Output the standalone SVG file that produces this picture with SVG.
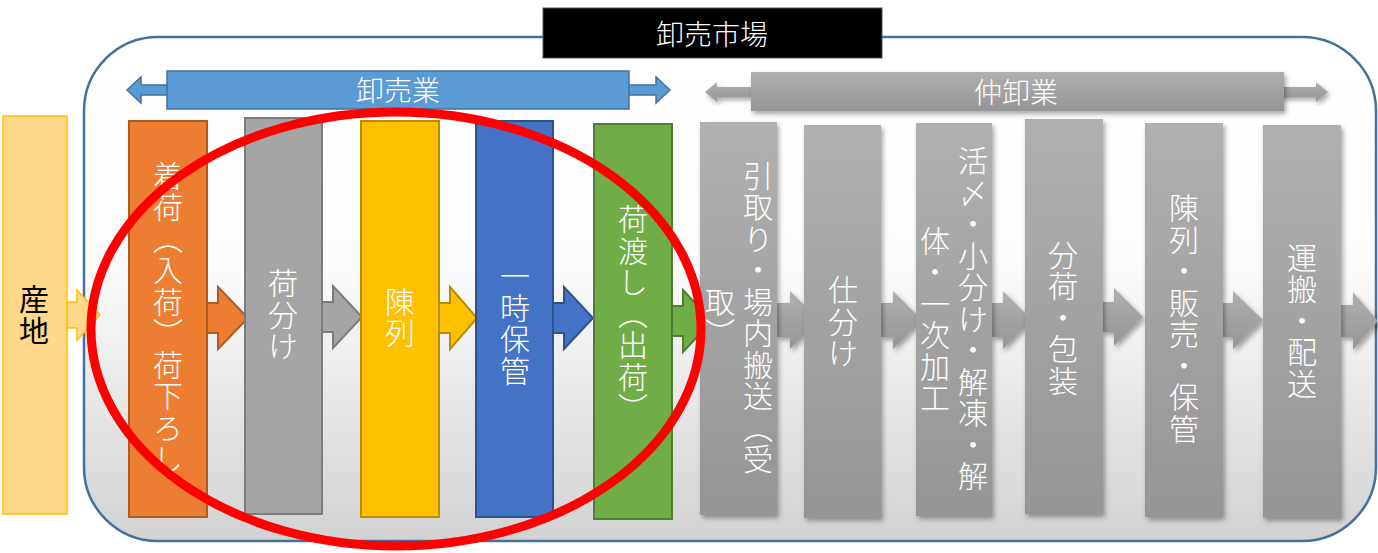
<svg xmlns="http://www.w3.org/2000/svg" width="1378" height="553" viewBox="0 0 1378 553">
<defs>
  <linearGradient id="bg" x1="0" y1="0" x2="0" y2="1">
    <stop offset="0" stop-color="#ffffff"/>
    <stop offset="0.45" stop-color="#fcfcfc"/>
    <stop offset="1" stop-color="#d2d2d2"/>
  </linearGradient>
  <linearGradient id="gr" x1="0" y1="0" x2="0" y2="1">
    <stop offset="0" stop-color="#b0b0b0"/>
    <stop offset="1" stop-color="#959595"/>
  </linearGradient>
  <filter id="sh" x="-20%" y="-20%" width="140%" height="140%">
    <feDropShadow dx="2" dy="3" stdDeviation="2.5" flood-color="#000" flood-opacity="0.35"/>
  </filter>
  <style>
    .jp { font-family: "Noto Sans CJK JP", "Noto Sans CJK SC", sans-serif; font-weight: 300; }
    .vt { writing-mode: vertical-rl; font-size: 30px; fill: #ffffff; text-anchor: middle; letter-spacing: 1.5px; }
    .ht { font-size: 28px; fill: #ffffff; text-anchor: middle; dominant-baseline: central; }
    .g { fill: url(#gr); filter: url(#sh); }
  </style>
</defs>

<g id="market">
  <rect x="84" y="37" width="1292" height="504" rx="74" ry="74" fill="url(#bg)" stroke="#41719C" stroke-width="2.5"/>
</g>
<g id="title">
  <rect x="543" y="8" width="339" height="50" fill="#000000" stroke="#555" stroke-width="1"/>
  <text class="jp ht" x="712" y="33">卸売市場</text>
</g>

<g id="oroshiuri-bar">
  <path d="M127,90 L141,77 V85 H656 V77 L670,90 L656,103 V95 H141 V103 Z" fill="#5B9BD5" stroke="#41719C" stroke-width="1.5"/>
  <rect x="167" y="71" width="462" height="38" fill="#5B9BD5" stroke="#41719C" stroke-width="1.5"/>
  <text class="jp ht" x="398" y="89">卸売業</text>
</g>

<g id="nakaoroshi-bar">
  <path d="M705,92 L717,82 V87 H1316 V82 L1328,92 L1316,102 V97 H717 V102 Z" class="g"/>
  <rect x="751" y="72" width="533" height="39" class="g"/>
  <text class="jp ht" x="1016" y="91">仲卸業</text>
</g>

<g id="connectors">
  <path d="M67,302 H77 V290 L100,315 L77,340 V328 H67 Z" fill="#FFD88A" stroke="#FFC000" stroke-width="1.5"/>
  <path d="M207,303 H218 V287 L248,318 L218,349 V333 H207 Z" fill="#ED7D31" stroke="#AE5A21" stroke-width="2"/>
  <path d="M322,302 H333 V286 L362,317 L333,348 V332 H322 Z" fill="#A5A5A5" stroke="#7C7C7C" stroke-width="2"/>
  <path d="M439,303 H450 V287 L477,318 L450,349 V333 H439 Z" fill="#FFC000" stroke="#BC8C00" stroke-width="2"/>
  <path d="M553,303 H564 V287 L593,318 L564,349 V333 H553 Z" fill="#4472C4" stroke="#2F528F" stroke-width="2"/>
  <path d="M672,306 H683 V290 L712,321 L683,352 V336 H672 Z" fill="#70AD47" stroke="#507E32" stroke-width="2"/>
  <path d="M777,303 H790 V291 L819,320 L790,349 V337 H777 Z" class="g"/>
  <path d="M881,303 H893 V291 L922,320 L893,349 V337 H881 Z" class="g"/>
  <path d="M992,303 H1003 V291 L1032,320 L1003,349 V337 H992 Z" class="g"/>
  <path d="M1103,302 H1114 V288 L1143,317 L1114,346 V332 H1103 Z" class="g"/>
  <path d="M1223,303 H1233 V291 L1263,320 L1233,349 V337 H1223 Z" class="g"/>
  <path d="M1341,305 H1353 V292 L1378,321 L1353,350 V337 H1341 Z" class="g"/>
</g>

<g id="sanchi">
  <rect x="3" y="116" width="64" height="398" fill="#FFD88A" stroke="#FFC000" stroke-width="1.5"/>
  <text class="jp vt" x="34" y="316" style="fill:#000000;font-weight:400;letter-spacing:2px">産地</text>
</g>
<g id="chakuni">
  <rect x="129" y="121" width="78" height="396" fill="#ED7D31" stroke="#AE5A21" stroke-width="2"/>
  <text class="jp vt" x="168" y="318">着荷（入荷）荷下ろし</text>
</g>
<g id="niwake">
  <rect x="245" y="118" width="77" height="396" fill="#A5A5A5" stroke="#7C7C7C" stroke-width="2"/>
  <text class="jp vt" x="283" y="315">荷分け</text>
</g>
<g id="chinretsu">
  <rect x="361" y="121" width="78" height="396" fill="#FFC000" stroke="#BC8C00" stroke-width="2"/>
  <text class="jp vt" x="400" y="318">陳列</text>
</g>
<g id="ichiji-hokan">
  <rect x="476" y="121" width="77" height="396" fill="#4472C4" stroke="#2F528F" stroke-width="2"/>
  <text class="jp vt" x="515" y="324">一時保管</text>
</g>
<g id="niwatashi">
  <rect x="594" y="124" width="78" height="395" fill="#70AD47" stroke="#507E32" stroke-width="2"/>
  <text class="jp vt" x="633" y="314">荷渡し（出荷）</text>
</g>
<g id="hikitori">
  <rect x="700" y="122" width="77" height="393" class="g"/>
  <text class="jp vt" x="758" y="318">引取り・場内搬送（受</text>
  <text class="jp vt" x="720" y="318">取）</text>
</g>
<g id="shiwake">
  <rect x="804" y="125" width="77" height="393" class="g"/>
  <text class="jp vt" x="843" y="322">仕分け</text>
</g>
<g id="kako">
  <rect x="916" y="123" width="76" height="393" class="g"/>
  <text class="jp vt" x="973" y="319">活〆・小分け・解凍・解</text>
  <text class="jp vt" x="935" y="320">体・一次加工</text>
</g>
<g id="bunka">
  <rect x="1025" y="119" width="78" height="395" class="g"/>
  <text class="jp vt" x="1063" y="318">分荷・包装</text>
</g>
<g id="hanbai">
  <rect x="1145" y="123" width="78" height="394" class="g"/>
  <text class="jp vt" x="1184" y="319">陳列・販売・保管</text>
</g>
<g id="haiso">
  <rect x="1263" y="125" width="78" height="393" class="g"/>
  <text class="jp vt" x="1302" y="321">運搬・配送</text>
</g>

<g id="highlight">
  <ellipse cx="396" cy="329" rx="305" ry="217" fill="none" stroke="#FF0000" stroke-width="9"/>
</g>
</svg>
